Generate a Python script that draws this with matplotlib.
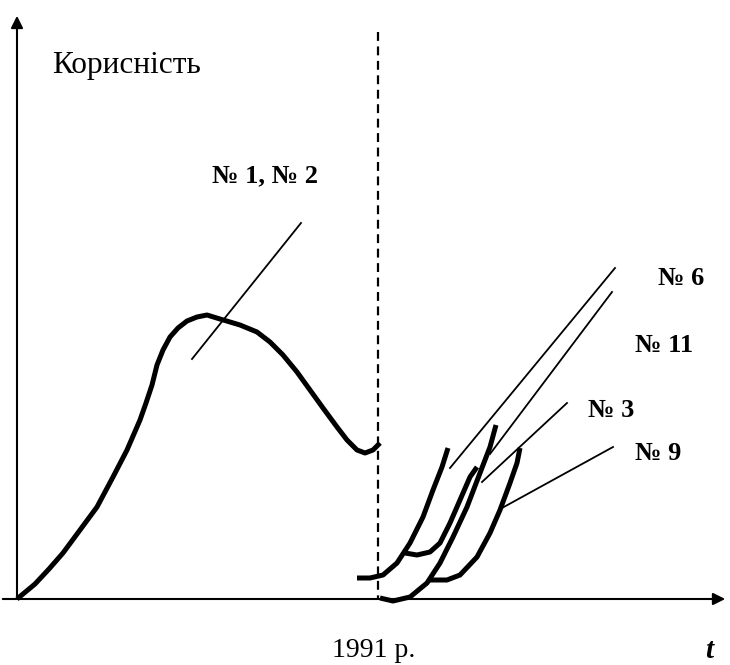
import matplotlib
matplotlib.use("Agg")
import matplotlib.pyplot as plt

plt.rcParams['font.family'] = ['Liberation Serif', 'DejaVu Serif']

# крива № 1, № 2 (до 1991 р.)
t_main = [0, 18, 32, 46, 63, 80, 96, 110, 123, 129, 135, 140, 146, 153, 161, 170, 180, 190,
          203, 223, 240, 253, 266, 280, 293, 306, 320, 330, 340, 348, 356, 363]
u_main = [0, 15, 30, 46, 69, 92, 122, 149, 179, 196, 214, 234, 249, 262, 271, 278, 282, 284,
          280, 274, 267, 257, 244, 227, 209, 191, 172, 159, 149, 146, 149, 156]

# криві після 1991 р.
t_n6 = [340, 353, 366, 380, 393, 406, 416, 425, 431]
u_n6 = [21, 21, 24, 36, 56, 82, 109, 132, 151]
t_n3 = [388, 400, 413, 423, 433, 443, 453, 460]
u_n3 = [46, 44, 47, 56, 76, 99, 122, 132]
t_n11 = [363, 376, 393, 410, 423, 436, 450, 463, 473, 479]
u_n11 = [1, -2, 2, 16, 36, 62, 92, 126, 152, 174]
t_n9 = [413, 430, 443, 460, 473, 483, 493, 500, 503]
u_n9 = [19, 19, 24, 42, 66, 89, 116, 136, 151]

# виноски: (t1, u1, t2, u2) та підписи
leaders = [(175, 240, 284, 376), (433, 131, 598, 331), (473, 145, 595, 307),
           (465, 117, 550, 196), (485, 91, 596, 152)]
labels = ["№ 1, № 2", "№ 6", "№ 11", "№ 3", "№ 9"]
label_t = [195, 641, 618, 571, 618]
label_u = [417, 314, 247, 182, 139]

t_1991 = 361

fig = plt.figure(figsize=(7.3, 6.65), dpi=100)
ax = fig.add_axes([0, 0, 1, 1])
ax.set_xlim(-17, 713)
ax.set_ylim(-66, 599)
ax.axis('off')

# осі
ax.annotate('', xy=(0, 586), xytext=(0, 0),
            arrowprops=dict(arrowstyle='-|>', lw=1.5, color='black', mutation_scale=18))
ax.annotate('', xy=(711, 0), xytext=(-17, 0),
            arrowprops=dict(arrowstyle='-|>', lw=1.5, color='black', mutation_scale=18))
ax.plot([t_1991, t_1991], [567, 0], color='black', lw=1.6, linestyle=(0, (4, 2.5)))

curve_kw = dict(color='black', lw=3.6, solid_capstyle='butt', solid_joinstyle='round')
ax.plot(t_main, u_main, **curve_kw)
for tt, uu in [(t_n6, u_n6), (t_n3, u_n3), (t_n11, u_n11), (t_n9, u_n9)]:
    ax.plot(tt, uu, **curve_kw)

for (a, b, c, d) in leaders:
    ax.plot([a, c], [b, d], color='black', lw=1.3)

for s, x, y in zip(labels, label_t, label_u):
    ax.text(x, y, s, fontsize=19, fontweight='bold', va='baseline', ha='left')

ax.text(35, 526, "Корисність", fontsize=22.5, va='baseline', ha='left')
ax.text(315, -58, "1991 р.", fontsize=20, va='baseline', ha='left')
ax.text(688, -59, "t", fontsize=21, fontweight='bold', fontstyle='italic', va='baseline', ha='left')

fig.savefig("out.png", dpi=100)
